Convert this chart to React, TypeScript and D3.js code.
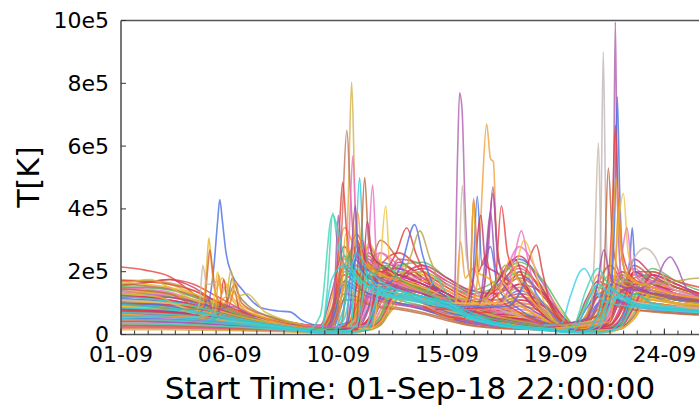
import React from "react";
import * as d3 from "d3";

// ---------- data (temperatures in units of 1e5 K, time in days from 01-Sep-18 22:00) ----------
const xTickDays = [0, 4.5, 9, 13.5, 18, 22.5];
const xTickLabels = ["01-09", "06-09", "10-09", "15-09", "19-09", "24-09"];
const yTicks = [0, 2, 4, 6, 8, 10];
const yTickLabels = ["0", "2e5", "4e5", "6e5", "8e5", "10e5"];

const gridDays = [0, 1, 2, 3, 4, 5, 6, 7, 7.75, 8.25, 8.75, 9.25, 9.75, 10.25, 10.75, 11.5, 12.5, 13.5, 14.5, 15.5, 16.5, 17.5, 18.25, 18.75, 19.25, 19.75, 20.25, 20.75, 21.25, 22, 23, 24, 25];

const bandSeries = [
  [2.15,2.05,1.85,1.3,0.7,0.5,0.4,0.3, 0.25,0.22,0.3,1.6,3.2,2.3,1.9,1.6,1.3,0.9,0.6,0.9,1.6,0.9,0.4,0.3,0.5,1.6,2.2,1.7,1.4,1.2,1.0,0.9,0.9],
  [1.75,1.7,1.6,1.3,0.9,0.6,0.45,0.35, 0.3,0.25,0.2,0.3,1.8,2.6,2.0,1.7,1.4,1.0,0.7,0.5,0.6,0.5,0.3,0.2,0.2,0.4,1.4,2.0,1.6,1.3,1.1,1.0,1.0],
  [1.6,1.65,1.75,1.5,1.0,0.7,0.5,0.4, 0.3,0.3,1.4,2.8,2.0,1.6,1.5,1.4,1.2,0.9,0.6,1.2,1.9,1.2,0.5,0.3,1.1,1.7,1.5,1.4,1.3,1.2,1.1,1.0,1.0],
  [1.5,1.45,1.35,1.1,0.8,0.55,0.4,0.3, 0.25,0.2,0.2,0.25,0.6,2.2,2.6,2.0,1.5,1.1,0.8,0.6,0.8,0.6,0.3,0.2,0.2,0.25,0.6,1.7,2.1,1.6,1.3,1.1,1.0],
  [1.4,1.3,1.2,1.0,0.75,0.55,0.4,0.3, 0.2,0.18,0.2,0.2,0.25,0.9,2.3,2.1,1.7,1.3,0.9,1.6,2.4,1.6,0.6,0.3,0.2,0.25,0.5,1.2,2.0,1.7,1.4,1.2,1.1],
  [1.3,1.35,1.3,1.1,0.85,0.6,0.45,0.35, 0.25,0.22,1.2,3.4,2.6,1.9,1.6,1.4,1.2,0.8,0.5,0.4,0.4,0.3,0.2,0.2,0.9,1.9,1.6,1.4,1.2,1.1,1.0,0.9,0.9],
  [1.2,1.15,1.05,0.9,0.7,0.5,0.38,0.3, 0.22,0.2,0.2,0.22,1.5,2.4,1.9,1.7,1.4,1.0,0.7,0.5,1.1,0.8,0.3,0.2,0.2,0.7,1.8,1.6,1.4,1.2,1.0,0.9,0.9],
  [1.1,1.1,1.0,0.9,0.7,0.5,0.4,0.3, 0.2,0.18,0.18,0.2,0.2,0.3,1.3,2.0,1.8,1.4,1.0,0.8,0.7,0.5,0.3,0.2,0.2,0.2,0.3,0.8,1.9,1.8,1.5,1.3,1.2],
  [1.0,0.95,0.9,0.8,0.65,0.5,0.38,0.3, 0.2,0.2,0.9,2.5,2.0,1.6,1.4,1.2,1.0,0.7,0.45,0.35,0.3,0.25,0.2,0.2,0.5,1.3,1.4,1.2,1.1,1.0,0.9,0.8,0.8],
  [0.95,0.9,0.85,0.75,0.6,0.45,0.35,0.28, 0.2,0.18,0.18,0.2,0.9,2.8,2.2,1.6,1.3,1.0,0.7,1.5,2.1,1.3,0.5,0.25,0.2,0.3,1.0,1.9,1.6,1.3,1.1,1.0,0.9],
  [0.9,0.9,0.88,0.8,0.65,0.5,0.4,0.3, 0.22,0.2,0.2,0.2,0.22,0.4,1.6,2.2,1.9,1.4,1.0,0.7,0.6,0.45,0.3,0.2,0.2,0.2,0.25,0.5,1.5,1.9,1.5,1.3,1.2],
  [0.85,0.8,0.75,0.65,0.55,0.42,0.32,0.25, 0.18,0.16,0.6,2.0,1.8,1.5,1.3,1.1,0.9,0.65,0.4,0.3,0.25,0.22,0.18,0.3,1.0,1.5,1.3,1.1,1.0,0.9,0.8,0.8,0.8],
  [0.8,0.78,0.75,0.68,0.55,0.42,0.33,0.26, 0.2,0.18,0.18,0.2,0.3,1.2,2.0,1.8,1.5,1.1,0.8,0.6,0.9,0.7,0.3,0.2,0.2,0.22,0.4,1.3,1.7,1.4,1.2,1.0,0.95],
  [0.75,0.7,0.66,0.6,0.5,0.4,0.3,0.24, 0.18,0.16,0.16,0.18,0.2,0.25,0.7,1.8,1.9,1.5,1.1,0.8,0.6,0.45,0.3,0.2,0.18,0.18,0.2,0.4,1.2,1.6,1.4,1.2,1.1],
  [0.7,0.68,0.65,0.58,0.48,0.38,0.3,0.24, 0.18,0.17,0.7,1.9,1.6,1.3,1.15,1.0,0.8,0.55,0.35,0.28,0.25,0.2,0.16,0.16,0.6,1.2,1.2,1.0,0.95,0.85,0.75,0.7,0.7],
  [0.65,0.62,0.6,0.55,0.46,0.36,0.28,0.22, 0.16,0.15,0.15,0.16,1.0,1.9,1.7,1.4,1.2,0.9,0.6,0.45,0.35,0.28,0.2,0.16,0.16,0.4,1.3,1.3,1.1,1.0,0.9,0.8,0.8],
  [0.6,0.6,0.58,0.52,0.44,0.35,0.28,0.22, 0.16,0.15,0.15,0.15,0.18,0.5,1.5,1.7,1.5,1.1,0.8,0.6,0.5,0.4,0.25,0.18,0.16,0.16,0.2,0.6,1.6,1.5,1.3,1.1,1.0],
  [0.55,0.52,0.5,0.46,0.4,0.32,0.26,0.2, 0.15,0.14,0.14,0.15,0.15,0.2,0.6,1.6,1.7,1.3,0.9,0.7,0.5,0.38,0.22,0.16,0.15,0.15,0.16,0.25,0.9,1.5,1.3,1.15,1.05],
  [0.5,0.5,0.48,0.44,0.38,0.3,0.24,0.19, 0.14,0.13,0.5,1.6,1.4,1.2,1.05,0.95,0.8,0.55,0.35,0.25,0.22,0.18,0.14,0.14,0.4,1.0,1.1,1.0,0.9,0.8,0.72,0.68,0.68],
  [0.45,0.44,0.42,0.38,0.33,0.27,0.22,0.18, 0.13,0.12,0.12,0.13,0.7,1.5,1.4,1.2,1.0,0.75,0.5,0.35,0.28,0.22,0.15,0.13,0.13,0.25,0.9,1.2,1.0,0.9,0.8,0.75,0.75],
  [0.4,0.4,0.38,0.35,0.3,0.25,0.2,0.16, 0.12,0.11,0.11,0.12,0.13,0.3,1.3,1.5,1.3,0.95,0.65,0.45,0.35,0.28,0.18,0.13,0.12,0.12,0.15,0.4,1.3,1.3,1.1,1.0,0.95],
  [0.35,0.35,0.34,0.31,0.27,0.22,0.18,0.15, 0.11,0.1,0.1,0.11,0.12,0.15,0.4,1.4,1.5,1.2,0.85,0.6,0.45,0.35,0.2,0.14,0.12,0.12,0.13,0.2,0.7,1.3,1.2,1.05,1.0],
  [0.3,0.3,0.29,0.27,0.24,0.2,0.17,0.14, 0.1,0.09,0.4,1.3,1.2,1.0,0.9,0.85,0.7,0.5,0.3,0.22,0.18,0.15,0.12,0.12,0.3,0.9,1.0,0.9,0.8,0.75,0.68,0.64,0.64],
  [0.25,0.25,0.24,0.22,0.2,0.17,0.14,0.12, 0.09,0.08,0.08,0.09,0.5,1.3,1.2,1.0,0.9,0.65,0.42,0.3,0.24,0.18,0.12,0.1,0.1,0.2,0.8,1.1,0.95,0.85,0.78,0.72,0.72],
  [0.2,0.2,0.19,0.18,0.16,0.14,0.12,0.1, 0.08,0.07,0.07,0.08,0.1,0.25,1.1,1.3,1.2,0.9,0.6,0.42,0.32,0.25,0.15,0.1,0.09,0.09,0.12,0.3,1.1,1.2,1.0,0.9,0.88],
  [1.45,1.4,1.3,1.05,0.75,0.5,0.35,0.25, 0.18,0.15,0.15,0.15,0.16,0.2,0.5,1.9,2.0,1.6,1.3,1.5,2.0,1.4,0.5,0.25,0.2,0.2,0.22,0.3,1.0,2.0,1.6,1.3,1.2],
  [1.25,1.2,1.1,0.95,0.7,0.5,0.36,0.27, 0.2,0.17,0.16,0.16,0.17,0.2,0.35,1.6,2.1,1.7,1.3,1.1,1.3,1.0,0.4,0.2,0.18,0.18,0.2,0.25,0.6,1.7,1.5,1.25,1.15],
  [0.9,0.85,0.8,0.7,0.55,0.42,0.32,0.25, 0.18,0.15,0.15,0.15,0.15,0.17,0.3,1.2,1.8,1.6,1.2,1.4,1.9,1.5,0.7,0.3,0.2,0.18,0.2,0.3,0.8,1.6,1.4,1.2,1.1],
  [1.55,1.65,1.75,1.6,1.2,0.8,0.5,0.35, 0.25,0.2,0.2,0.25,0.9,2.5,2.0,1.8,1.5,1.2,1.0,1.4,2.2,1.3,0.5,0.3,0.25,0.5,1.5,2.0,1.7,1.5,1.3,1.2,1.1],
  [1.65,1.6,1.5,1.3,1.0,0.7,0.5,0.38, 0.3,0.25,0.25,1.6,3.0,2.2,1.8,1.6,1.5,1.2,0.8,0.6,0.5,0.4,0.3,0.25,0.3,0.9,1.8,1.9,1.7,1.6,1.4,1.3,1.2],
  [1.05,1.0,0.95,0.85,0.7,0.55,0.42,0.32, 0.22,0.2,0.2,0.22,0.25,0.35,1.2,2.3,1.8,1.3,0.9,1.6,2.5,1.4,0.4,0.22,0.2,0.22,0.3,0.9,2.4,1.9,1.5,1.3,1.2],
  [1.35,1.3,1.25,1.1,0.85,0.6,0.42,0.3, 0.22,0.2,0.2,0.2,0.22,1.1,2.6,2.2,1.7,1.3,1.0,1.3,2.8,1.6,0.6,0.3,0.25,0.3,0.5,1.6,1.9,1.5,1.3,1.2,1.1],
  [1.15,1.1,1.05,0.95,0.75,0.55,0.4,0.3, 0.22,0.2,0.2,1.2,2.2,1.8,1.6,1.5,1.3,1.0,0.7,0.9,1.4,0.9,0.35,0.22,0.25,1.0,1.6,1.4,1.3,1.2,1.15,1.1,1.1],
  [0.6,0.58,0.56,0.52,0.45,0.38,0.3,0.22, 0.15,0.13,0.13,0.14,0.15,0.2,0.4,1.0,1.4,1.2,0.9,0.7,1.2,1.0,0.5,0.2,0.15,0.15,0.15,0.2,0.5,1.3,1.2,1.1,1.0],
  [0.8,0.8,0.78,0.72,0.6,0.47,0.36,0.28, 0.2,0.18,0.18,0.2,0.25,1.4,2.1,1.9,1.6,1.2,0.85,0.6,0.5,0.4,0.25,0.2,0.2,0.3,1.1,1.6,1.4,1.3,1.1,1.0,1.0],
  [1.7,1.72,1.65,1.4,1.0,0.7,0.5,0.38, 0.28,0.25,0.5,2.2,2.8,2.1,1.8,1.6,1.4,1.1,0.8,1.0,1.5,1.0,0.4,0.25,0.6,1.4,1.9,1.6,1.4,1.3,1.2,1.1,1.1],
  [1.6,1.55,1.45,1.25,0.95,0.65,0.45,0.32, 0.24,0.2,0.2,0.24,0.4,1.8,3.0,2.4,1.8,1.3,0.9,1.2,1.8,1.2,0.45,0.25,0.2,0.22,0.4,1.4,2.2,1.8,1.5,1.3,1.2],
  [1.48,1.5,1.45,1.2,0.9,0.62,0.44,0.32, 0.22,0.2,0.2,0.2,0.2,0.3,1.0,2.4,2.2,1.6,1.2,1.0,1.2,0.9,0.4,0.22,0.2,0.2,0.25,0.6,1.8,1.9,1.6,1.3,1.2],
  [1.38,1.35,1.28,1.12,0.88,0.6,0.42,0.3, 0.22,0.2,0.8,2.4,2.2,1.8,1.6,1.5,1.3,1.0,0.7,0.9,1.2,0.8,0.3,0.2,0.6,1.6,1.5,1.3,1.2,1.1,1.0,0.95,0.9],
  [1.28,1.25,1.2,1.05,0.8,0.58,0.42,0.3, 0.22,0.2,0.2,0.22,0.7,2.6,2.2,1.8,1.5,1.2,0.85,0.7,0.9,0.7,0.3,0.2,0.2,0.4,1.2,1.8,1.5,1.3,1.2,1.1,1.0],
  [1.18,1.2,1.18,1.05,0.82,0.58,0.42,0.3, 0.22,0.2,0.2,0.2,0.22,0.5,2.0,2.1,1.7,1.3,0.95,0.75,1.0,0.8,0.35,0.2,0.2,0.2,0.3,1.0,2.0,1.6,1.4,1.2,1.1],
  [1.08,1.05,1.0,0.9,0.72,0.52,0.38,0.28, 0.2,0.18,0.18,0.2,0.2,0.22,0.6,2.0,2.0,1.5,1.1,0.85,0.9,0.7,0.35,0.2,0.18,0.18,0.2,0.35,1.2,1.7,1.4,1.2,1.1],
  [0.98,0.98,0.95,0.86,0.7,0.52,0.38,0.28, 0.2,0.18,0.8,2.2,1.9,1.6,1.4,1.3,1.1,0.85,0.55,0.45,0.5,0.4,0.25,0.2,0.4,1.2,1.3,1.2,1.1,1.0,0.9,0.85,0.85],
  [0.88,0.86,0.82,0.74,0.6,0.46,0.35,0.26, 0.18,0.16,0.16,0.18,0.8,2.2,1.9,1.6,1.35,1.0,0.7,0.55,0.7,0.55,0.25,0.17,0.16,0.3,1.0,1.5,1.3,1.15,1.0,0.95,0.9],
  [0.78,0.76,0.72,0.66,0.55,0.43,0.33,0.25, 0.18,0.16,0.16,0.16,0.18,0.35,1.8,1.9,1.6,1.2,0.85,0.65,0.6,0.5,0.28,0.18,0.16,0.16,0.2,0.5,1.6,1.6,1.3,1.15,1.05],
  [0.68,0.66,0.63,0.57,0.48,0.38,0.3,0.23, 0.17,0.15,0.15,0.15,0.16,0.2,0.8,1.8,1.8,1.4,1.0,0.75,0.6,0.45,0.28,0.17,0.15,0.15,0.17,0.3,1.0,1.7,1.4,1.2,1.1],
  [0.58,0.57,0.55,0.5,0.43,0.35,0.27,0.21, 0.15,0.14,0.45,1.7,1.5,1.3,1.15,1.0,0.85,0.6,0.4,0.3,0.26,0.2,0.15,0.2,0.8,1.3,1.2,1.05,0.95,0.85,0.78,0.74,0.72],
  [0.48,0.47,0.45,0.42,0.36,0.3,0.24,0.18, 0.13,0.12,0.12,0.12,0.6,1.7,1.5,1.25,1.05,0.8,0.55,0.38,0.3,0.24,0.15,0.12,0.12,0.2,0.7,1.4,1.15,1.0,0.9,0.82,0.8],
  [0.42,0.42,0.4,0.37,0.32,0.27,0.21,0.16, 0.12,0.11,0.11,0.11,0.12,0.22,1.0,1.6,1.4,1.05,0.7,0.5,0.38,0.3,0.18,0.12,0.11,0.11,0.13,0.3,1.4,1.4,1.2,1.05,1.0],
  [0.32,0.32,0.31,0.29,0.26,0.22,0.18,0.14, 0.1,0.09,0.09,0.1,0.11,0.14,0.3,1.2,1.4,1.15,0.8,0.55,0.42,0.32,0.18,0.12,0.1,0.1,0.12,0.18,0.6,1.2,1.1,1.0,0.95],
  [0.28,0.28,0.27,0.25,0.22,0.19,0.16,0.13, 0.09,0.08,0.3,1.1,1.1,0.95,0.85,0.8,0.65,0.45,0.28,0.2,0.17,0.14,0.1,0.1,0.25,0.8,0.95,0.85,0.78,0.72,0.66,0.62,0.62],
  [0.22,0.22,0.21,0.2,0.18,0.16,0.13,0.11, 0.08,0.07,0.07,0.07,0.4,1.2,1.1,0.95,0.85,0.6,0.38,0.27,0.21,0.16,0.1,0.08,0.08,0.15,0.7,1.0,0.9,0.8,0.74,0.7,0.7],
  [0.15,0.15,0.15,0.14,0.13,0.12,0.1,0.08, 0.06,0.05,0.05,0.05,0.06,0.2,1.0,1.2,1.1,0.85,0.55,0.38,0.28,0.2,0.12,0.07,0.06,0.06,0.08,0.25,1.0,1.1,0.95,0.85,0.82],
  [1.52,1.5,1.42,1.2,0.9,0.6,0.42,0.3, 0.2,0.18,0.17,0.17,0.18,0.22,0.6,2.2,2.3,1.8,1.4,1.7,2.3,1.7,0.8,0.3,0.22,0.2,0.22,0.35,1.2,2.1,1.7,1.4,1.3],
  [1.22,1.18,1.1,0.95,0.72,0.52,0.38,0.28, 0.2,0.17,0.16,0.16,0.17,0.2,0.45,1.7,2.2,1.8,1.4,1.3,1.6,1.3,0.6,0.25,0.2,0.18,0.2,0.3,0.9,1.9,1.6,1.3,1.2],
  [0.62,0.62,0.6,0.55,0.46,0.37,0.29,0.22, 0.16,0.14,0.14,0.14,0.15,0.18,0.4,1.4,1.7,1.4,1.05,0.8,1.0,0.8,0.4,0.18,0.15,0.14,0.15,0.2,0.5,1.4,1.3,1.15,1.05],
  [1.72,1.68,1.6,1.4,1.05,0.72,0.5,0.36, 0.26,0.22,0.22,0.22,0.24,0.5,2.2,2.6,2.0,1.5,1.1,0.9,1.1,0.9,0.4,0.25,0.22,0.22,0.3,0.8,2.0,2.0,1.7,1.5,1.4],
  [1.02,1.02,1.0,0.92,0.76,0.56,0.4,0.3, 0.22,0.2,0.2,0.2,1.1,2.9,2.3,1.8,1.5,1.15,0.8,0.6,0.55,0.45,0.28,0.2,0.2,0.7,1.7,1.6,1.4,1.25,1.1,1.0,1.0],
  [0.72,0.72,0.7,0.64,0.54,0.42,0.32,0.24, 0.17,0.15,0.15,0.15,0.16,0.8,2.2,1.8,1.5,1.15,0.8,0.6,0.5,0.4,0.25,0.16,0.15,0.18,0.5,1.4,1.5,1.3,1.15,1.05,1.0],
];

const tealSeries = [
  [1.2,1.15,1.05,0.9,0.7,0.5,0.35,0.25, 0.15,0.6,3.8,2.5,1.9,1.5,1.3,1.2,1.1,1.0,0.6,0.35,0.25,0.2,0.15,0.3,1.4,2.1,1.5,1.2,1.0,0.9,0.8,0.7,0.7],
  [0.95,0.9,0.85,0.75,0.6,0.45,0.32,0.2, 0.1,0.08,0.08,0.9,2.6,1.9,1.5,1.3,1.2,1.05,0.7,0.4,0.25,0.18,0.1,0.08,0.1,0.6,1.5,1.2,1.0,0.9,0.8,0.75,0.7],
  [0.7,0.68,0.64,0.58,0.5,0.4,0.3,0.2, 0.12,0.1,0.1,0.1,0.3,2.0,1.7,1.4,1.2,1.0,0.6,0.35,0.22,0.15,0.1,0.08,0.08,0.15,0.9,1.3,1.0,0.85,0.75,0.7,0.65],
  [0.5,0.48,0.46,0.42,0.36,0.3,0.22,0.16, 0.1,0.08,0.08,0.08,0.09,0.15,1.5,1.4,1.2,0.95,0.6,0.35,0.22,0.15,0.1,0.08,0.08,0.08,0.12,0.5,1.3,1.0,0.85,0.75,0.7],
  [0.35,0.34,0.33,0.3,0.27,0.23,0.18,0.13, 0.08,0.06,0.06,0.06,0.08,0.4,1.4,1.3,1.1,0.9,0.55,0.3,0.2,0.13,0.08,0.06,0.06,0.06,0.1,0.3,0.9,0.95,0.8,0.7,0.65],
  [0.85,0.82,0.78,0.7,0.56,0.42,0.3,0.2, 0.12,0.1,1.8,2.2,1.8,1.5,1.3,1.15,1.0,0.85,0.5,0.3,0.2,0.15,0.1,0.12,0.9,1.6,1.3,1.1,0.95,0.85,0.78,0.72,0.7],
  [0.6,0.58,0.55,0.5,0.42,0.34,0.25,0.17, 0.1,0.08,0.08,0.5,2.1,1.7,1.4,1.2,1.05,0.9,0.55,0.32,0.2,0.14,0.09,0.08,0.12,0.3,1.1,1.2,1.0,0.88,0.8,0.74,0.7],
];

const periodASpikes = [
  [[0,1.0],[1.5,0.95],[3.0,0.8],[3.6,1.0],[3.85,2.2],[4.0,3.6],[4.09,4.3],[4.2,3.6],[4.35,2.6],[4.6,1.9],[5.0,1.45],[5.8,0.85],[6.5,0.75],[7.0,0.72],[7.5,0.45],[8.0,0.3],[8.5,0.22]],
  [[0,1.3],[1.5,1.2],[3.0,0.8],[3.4,0.9],[3.55,2.2],[3.64,3.07],[3.75,2.2],[3.88,1.4],[4.2,1.8],[4.5,1.3],[5.5,0.7],[7,0.35],[8,0.25],[8.6,0.2]],
  [[0,1.45],[2,1.3],[3.2,0.9],[3.45,1.0],[3.58,2.0],[3.68,2.7],[3.8,2.0],[3.95,1.2],[4.3,0.9],[4.7,1.6],[5.0,1.0],[6,0.6],[7,0.4],[8.5,0.2]],
  [[0,1.1],[2,1.0],[3.1,0.75],[3.25,1.0],[3.39,2.2],[3.55,1.6],[3.8,1.6],[4.0,1.7],[4.4,1.3],[5,0.8],[6.5,0.4],[8.5,0.2]],
  [[0,0.9],[2,0.85],[3.6,0.6],[3.85,1.1],[4.0,2.0],[4.15,1.3],[4.4,1.6],[4.6,1.1],[5.5,0.6],[7,0.3],[8.5,0.15]],
  [[0,1.0],[3,0.8],[4.2,0.9],[4.45,1.2],[4.6,1.8],[4.85,1.3],[5.3,0.9],[6.5,0.5],[8.5,0.2]],
  [[0,0.8],[3,0.6],[3.9,0.5],[4.1,0.9],[4.25,1.75],[4.45,0.9],[4.7,1.4],[4.9,0.8],[6,0.5],[8.5,0.15]],
  [[0,1.6],[1.2,1.75],[2,1.5],[3.5,1.0],[4.35,1.2],[4.55,2.05],[4.75,1.2],[5.2,1.3],[6,0.7],[8.5,0.2]],
  [[0,0.7],[3,0.6],[3.4,0.8],[3.6,1.16],[3.8,0.7],[4.5,0.9],[5.5,0.6],[8.5,0.15]],
  [[0,0.6],[3,0.55],[3.9,0.7],[4.05,1.9],[4.2,1.0],[4.5,1.0],[4.75,1.7],[4.95,0.9],[6,0.5],[8.5,0.15]],
];

const event1Spikes = [
  [[7.5,0.25],[8.8,0.2],[9.2,0.5],[9.4,4.0],[9.55,8.04],[9.7,4.0],[9.85,2.6],[10.2,2.1],[10.8,1.9],[11.5,1.6],[12.5,1.3],[13.5,1.0],[14.5,0.6],[15.5,0.5],[17.5,0.3],[18.5,0.2]],
  [[7.5,0.25],[8.6,0.2],[8.95,0.6],[9.15,3.5],[9.35,6.5],[9.5,4.5],[9.7,2.5],[10.2,2.3],[11,1.8],[12,1.5],[13.5,1.1],[15,0.6],[17.5,0.3],[18.5,0.2]],
  [[7.5,0.3],[8.5,0.25],[8.85,1.0],[9.05,3.5],[9.18,4.85],[9.35,3.2],[9.55,2.3],[9.8,3.0],[10.0,2.0],[10.5,1.8],[11.5,1.5],[13,1.0],[15,0.5],[17.5,0.3],[18.5,0.2]],
  [[7.5,0.3],[9.0,0.25],[9.3,1.2],[9.45,3.2],[9.6,5.7],[9.75,3.0],[9.95,2.2],[10.2,2.4],[10.42,4.76],[10.6,2.2],[11,1.8],[12,1.5],[13.5,1.1],[15,0.6],[16.5,0.9],[17.5,0.4],[18.5,0.2]],
  [[7.5,0.2],[8.3,0.2],[8.55,1.5],[8.77,3.87],[8.95,3.0],[9.2,2.2],[9.6,1.8],[10.5,1.5],[11.5,1.3],[12.5,1.1],[13.5,0.8],[14.5,0.5],[16,0.3],[18.5,0.15]],
  [[8,0.1],[9.5,0.1],[9.65,1.5],[9.88,5.0],[10.05,2.5],[10.3,1.6],[11,1.3],[12,1.2],[13.5,1.0],[14.5,0.6],[16,0.3],[18.5,0.1]],
  [[8,0.2],[9.7,0.2],[9.9,2.0],[10.09,5.0],[10.25,3.0],[10.5,2.4],[11,2.0],[12,1.6],[13.5,1.2],[15,0.7],[17.5,0.3],[18.5,0.2]],
  [[8,0.2],[10.4,0.2],[10.7,1.8],[10.96,4.1],[11.15,2.0],[11.5,1.8],[12.5,1.5],[13.5,1.2],[15,0.7],[17.5,0.3],[18.5,0.2]],
  [[8,0.2],[8.7,0.25],[8.85,1.5],[9.0,3.8],[9.15,2.4],[9.5,2.0],[10,3.0],[10.2,2.1],[11,1.7],[12.5,1.3],[14,0.8],[16,0.4],[18.5,0.2]],
  [[9,0.2],[9.6,0.5],[9.9,2.8],[10.2,2.2],[10.8,2.0],[11.4,2.6],[11.83,3.4],[12.2,2.6],[12.8,1.6],[13.5,1.2],[15,0.6],[17,0.4],[18.5,0.2]],
  [[9,0.3],[9.4,0.4],[9.7,2.4],[10.1,1.9],[11,1.6],[11.6,2.2],[12.16,3.5],[12.5,2.5],[13.0,1.5],[14,1.0],[15,0.6],[17,0.35],[18.5,0.2]],
  [[9,0.2],[9.9,0.3],[10.1,2.2],[10.5,1.9],[11.5,1.8],[12.0,2.5],[12.37,3.3],[12.8,2.4],[13.3,1.5],[14.5,0.8],[16,0.5],[18.5,0.2]],
  [[9,0.1],[9.5,0.15],[9.7,1.8],[10,1.5],[11,1.2],[12,1.1],[12.7,1.4],[13.07,1.8],[13.4,1.4],[14,0.7],[15,0.4],[17,0.2],[18.5,0.1]],
  [[9,0.2],[10.2,0.3],[10.5,1.6],[11,1.3],[12,1.1],[13,1.3],[13.52,1.6],[13.9,1.3],[14.5,0.7],[16,0.3],[18.5,0.15]],
  [[8,0.2],[9.8,0.2],[10.0,1.5],[10.2,3.6],[10.4,2.5],[10.8,2.2],[11.5,1.9],[12.5,1.6],[13.5,1.3],[14.5,0.9],[15.5,1.6],[16.3,2.4],[16.8,1.5],[17.5,0.6],[18.5,0.2]],
  [[8,0.2],[8.9,0.2],[9.1,1.0],[9.3,3.2],[9.5,2.2],[9.8,3.9],[10.0,2.4],[10.6,2.0],[11.5,1.7],[13,1.2],[15,0.6],[18.5,0.2]],
  [[8,0.2],[9.3,0.2],[9.5,2.0],[9.7,4.1],[9.85,2.3],[10.3,2.0],[11,1.6],[12.5,1.3],[14,0.9],[16,0.4],[18.5,0.2]],
  [[8,0.2],[9.1,0.2],[9.3,1.4],[9.45,2.6],[9.6,2.0],[10,1.7],[11,2.2],[11.5,1.8],[12.5,1.4],[14,0.8],[16,0.4],[18.5,0.2]],
];

const event2Spikes = [
  [[12,1.2],[13,0.8],[13.6,0.5],[13.8,1.0],[13.93,5.5],[14.02,7.7],[14.12,7.2],[14.25,4.0],[14.4,2.0],[14.8,1.3],[15.5,0.9],[16.5,0.6],[17.5,0.3],[18.5,0.2]],
  [[12.5,1.0],[13.7,0.6],[13.95,1.5],[14.14,4.75],[14.3,2.5],[14.6,1.6],[15.2,1.0],[16.5,0.6],[18.5,0.2]],
  [[12.5,1.2],[14,0.8],[14.5,0.9],[14.8,2.0],[14.95,4.5],[15.14,6.7],[15.3,5.6],[15.42,5.5],[15.55,3.0],[15.8,1.8],[16.3,1.2],[17.5,0.5],[18.5,0.2]],
  [[12.5,1.0],[13.8,0.5],[14.06,2.95],[14.25,1.8],[14.6,2.1],[15,1.2],[16,0.8],[18.5,0.2]],
  [[12.5,1.1],[14.3,0.6],[14.55,1.5],[14.75,4.4],[14.95,2.2],[15.3,2.8],[15.6,1.5],[16.5,0.8],[18.5,0.2]],
  [[12.5,0.9],[14.2,0.5],[14.45,1.4],[14.6,4.3],[14.8,2.0],[15.1,2.5],[15.4,1.4],[16.5,0.7],[18.5,0.2]],
  [[12.5,1.0],[14.5,0.7],[15.0,1.3],[15.25,3.5],[15.4,4.5],[15.6,2.6],[16.0,1.6],[16.5,2.0],[17,1.2],[18.5,0.2]],
  [[12.5,1.0],[14.5,0.8],[15.0,1.4],[15.2,2.6],[15.4,4.7],[15.6,2.4],[16.0,1.8],[17,1.0],[18.5,0.2]],
  [[12.5,1.3],[14.2,0.9],[14.6,1.8],[14.9,3.8],[15.1,2.2],[15.5,2.0],[16.2,1.6],[17.2,0.8],[18.5,0.2]],
  [[12.5,1.1],[14,0.7],[14.45,1.6],[14.6,4.35],[14.75,2.0],[15.2,1.8],[16,1.2],[17.5,0.5],[18.5,0.2]],
  [[13,0.9],[15.2,0.7],[15.5,1.6],[15.75,4.1],[16.0,2.6],[16.3,2.0],[16.8,1.4],[17.5,0.6],[18.5,0.2]],
  [[13,0.8],[15.5,0.8],[16.0,1.4],[16.3,2.5],[16.58,3.3],[16.85,2.4],[17.2,1.2],[17.8,0.5],[18.5,0.2]],
  [[13,0.8],[16,0.9],[16.6,1.5],[16.95,2.5],[17.2,2.85],[17.45,2.0],[17.8,0.9],[18.3,0.4],[19,0.2]],
  [[13,1.0],[15.8,1.0],[16.3,2.0],[16.7,3.0],[17.0,2.5],[17.4,1.3],[18,0.4],[18.8,0.2]],
  [[13,1.0],[14.8,0.9],[15.1,2.5],[15.3,3.9],[15.5,2.2],[16,1.4],[17,0.8],[18.5,0.2]],
  [[13,0.9],[15.5,1.0],[15.9,2.0],[16.1,2.4],[16.4,1.8],[17,1.1],[18,0.4],[18.8,0.2]],
  [[13,1.2],[15,1.1],[15.6,1.8],[15.9,2.2],[16.3,1.9],[17,1.4],[17.6,0.6],[18.5,0.25]],
  [[13,0.9],[16,0.9],[16.5,1.3],[16.85,1.8],[17.2,1.3],[17.8,0.7],[18.4,0.25],[19,0.15]],
];

const event3Spikes = [
  [[18,0.3],[19.4,0.4],[19.6,2.5],[19.77,6.1],[19.9,2.0],[20.1,1.3],[20.6,1.2],[21.5,1.0],[23,0.8],[25,0.7]],
  [[18,0.2],[19.75,0.5],[19.88,4.0],[19.97,9.0],[20.07,4.0],[20.2,1.5],[20.5,1.2],[21.5,1.0],[25,0.8]],
  [[18,0.3],[19.5,0.6],[20.0,1.4],[20.3,1.8],[20.4,5.0],[20.47,9.95],[20.55,4.5],[20.7,2.0],[21,1.6],[22,1.4],[23,1.2],[24,1.2],[25,1.1]],
  [[18,0.2],[20.0,0.5],[20.3,1.5],[20.45,4.0],[20.55,7.57],[20.65,4.5],[20.8,2.2],[20.95,1.9],[21.07,2.4],[21.17,3.4],[21.3,2.0],[21.6,1.6],[22,1.4],[23,1.1],[25,1.0]],
  [[18,0.3],[19.8,0.6],[20.2,2.0],[20.35,4.0],[20.47,6.67],[20.6,4.0],[20.8,2.5],[21.2,1.8],[22,1.5],[23.5,1.2],[25,1.1]],
  [[18,0.3],[19.7,0.6],[20.0,2.0],[20.18,5.3],[20.35,3.0],[20.6,2.0],[21,1.6],[22.5,1.2],[25,1.0]],
  [[18,0.2],[20,0.4],[20.4,1.5],[20.6,3.5],[20.8,4.5],[21.0,2.6],[21.3,1.9],[22,1.5],[23.5,1.2],[25,1.1]],
  [[18,0.3],[20,0.5],[20.6,1.5],[20.9,1.9],[21.3,2.5],[21.67,2.75],[22.1,2.5],[22.5,1.8],[23,1.4],[24,1.2],[25,1.2]],
  [[17.5,0.3],[18.2,0.3],[18.6,1.2],[19.0,2.0],[19.19,2.1],[19.5,1.7],[19.8,1.2],[20.2,1.0],[21,0.9],[22,0.8],[25,0.7]],
  [[18,0.2],[20,0.5],[20.2,1.4],[20.35,3.2],[20.5,5.0],[20.65,3.0],[20.9,2.0],[21.5,1.6],[23,1.2],[25,1.1]],
  [[20,0.4],[20.6,1.6],[21,1.4],[21.6,1.5],[22.2,1.8],[22.5,2.3],[22.75,2.47],[23.0,2.2],[23.4,1.5],[24,1.2],[25,1.1]],
  [[18,0.3],[20,0.4],[20.5,1.5],[20.75,2.6],[20.95,3.4],[21.15,2.2],[21.5,1.7],[22.5,1.4],[25,1.1]],
  [[18,0.3],[19.3,0.5],[19.7,1.5],[20.0,2.7],[20.2,2.0],[20.5,1.6],[21.5,1.4],[23,1.2],[25,1.0]],
  [[18,0.3],[19.5,0.4],[20.3,1.2],[20.8,1.7],[21.5,1.6],[22,1.6],[23,1.7],[24,1.8],[25,1.8]],
  [[18,0.2],[20.2,0.4],[20.45,1.8],[20.6,4.1],[20.75,2.5],[21,1.8],[22,1.5],[23.5,1.2],[25,1.15]],
];

// ---------- styles ----------
const bandPalette = ["#e8413c", "#e6b422", "#c8326e", "#ee6fc4", "#4a6fe3", "#f39c2a", "#a556b5", "#a8a24a", "#c0683f", "#e05a8a", "#d9a93a", "#5cb85c", "#d6336c", "#f2b134"];
const tealPalette = ["#40d4b8", "#22c8e0", "#3ad8c8", "#1ec8e0", "#48d0d0", "#2dd4d4", "#38c8dc"];
const periodAColors = ["#4a6fe3", "#e6b422", "#d9603a", "#c9b9a6", "#f0c040", "#8c8a5a", "#e03c3c", "#d9b43a", "#a556b5", "#f39c2a"];
const event1Colors = ["#d4b24a", "#c8705a", "#e8413c", "#ee6fc4", "#40d4b0", "#28c8e0", "#b8693a", "#f0c040", "#a556b5", "#e03c3c", "#4a6fe3", "#b5a642", "#48d8c8", "#b8a8b8", "#c8326e", "#f39c2a", "#9b4fb0", "#5cb85c"];
const event2Colors = ["#b060b0", "#c9b9a6", "#f3a040", "#f39c2a", "#4a6fe3", "#e8413c", "#d63a4a", "#a556b5", "#c8326e", "#e6b422", "#e8413c", "#ee6fc4", "#d94040", "#f0c040", "#9b4fb0", "#f5b041", "#b5a642", "#5a7fe8"];
const event3Colors = ["#c9b9a6", "#c0b4bc", "#b060b0", "#4a6fe3", "#e8413c", "#c0683f", "#f0c040", "#c4b8b0", "#3ad0e8", "#e6a822", "#a556b5", "#ee6fc4", "#9b4fb0", "#b5a642", "#f39c2a"];

const W = 699;
const H = 408;
const left = 121;
const top = 20.5;
const bottom = 334.5;
const pxPerDay = 24.15;
const FONT = "DejaVu Sans, sans-serif";

export default function App() {
  const x = d3.scaleLinear().domain([0, 24]).range([left, left + 24 * pxPerDay]);
  const y = d3.scaleLinear().domain([0, 10]).range([bottom, top]);
  const line = d3
    .line<[number, number]>()
    .x((p) => x(p[0]))
    .y((p) => y(p[1]))
    .curve(d3.curveMonotoneX);

  const gridPaths = (series: number[][]) =>
    series.map((vals) => line(vals.map((v, i) => [gridDays[i], v] as [number, number])) || "");
  const pairPaths = (series: number[][][]) =>
    series.map((pts) => line(pts as [number, number][]) || "");

  const minorTicks = d3.range(0, 24.01, 4.5 / 8);

  const layers: { d: string; c: string }[] = [];
  gridPaths(bandSeries).forEach((d, i) => layers.push({ d, c: bandPalette[i % bandPalette.length] }));
  pairPaths(periodASpikes).forEach((d, i) => layers.push({ d, c: periodAColors[i] }));
  pairPaths(event1Spikes).forEach((d, i) => layers.push({ d, c: event1Colors[i] }));
  pairPaths(event2Spikes).forEach((d, i) => layers.push({ d, c: event2Colors[i] }));
  pairPaths(event3Spikes).forEach((d, i) => layers.push({ d, c: event3Colors[i] }));
  gridPaths(tealSeries).forEach((d, i) => layers.push({ d, c: tealPalette[i] }));

  return (
    <svg
      width={W}
      height={H}
      style={{ position: "absolute", left: 0, top: 0, display: "block", background: "#fff" }}
      fontFamily={FONT}
    >
      <defs>
        <clipPath id="plotclip">
          <rect x={left} y={top} width={W - left + 10} height={bottom - top} />
        </clipPath>
      </defs>
      <g clipPath="url(#plotclip)" fill="none" strokeWidth={1.6} strokeOpacity={0.8} strokeLinejoin="round">
        {layers.map((l, i) => (
          <path key={i} d={l.d} stroke={l.c} />
        ))}
      </g>
      {/* frame */}
      <g stroke="#555" strokeWidth={1.6} fill="none">
        <line x1={left} y1={top} x2={W + 5} y2={top} />
        <line x1={left} y1={top} x2={left} y2={bottom} />
        <line x1={left} y1={bottom} x2={W + 5} y2={bottom} />
      </g>
      {/* ticks */}
      <g stroke="#333" strokeWidth={1}>
        {minorTicks.map((d, i) => (
          <line key={"m" + i} x1={x(d)} x2={x(d)} y1={bottom} y2={bottom - 4} />
        ))}
        {xTickDays.map((d, i) => (
          <line key={"M" + i} x1={x(d)} x2={x(d)} y1={bottom} y2={bottom - 6} />
        ))}
        {yTicks.map((v, i) => (
          <line key={"y" + i} x1={left} x2={left + 5} y1={y(v)} y2={y(v)} />
        ))}
      </g>
      <g fontSize={22} fill="#000">
        {xTickDays.map((d, i) => (
          <text key={i} x={x(d)} y={362} textAnchor="middle">
            {xTickLabels[i]}
          </text>
        ))}
        {yTicks.map((v, i) => (
          <text key={i} x={109} y={y(v) + 7.5} textAnchor="end">
            {yTickLabels[i]}
          </text>
        ))}
      </g>
      <text x={410} y={399} fontSize={31} textAnchor="middle" fill="#000">
        Start Time: 01-Sep-18 22:00:00
      </text>
      <text transform="translate(39,177) rotate(-90)" fontSize={30} textAnchor="middle" fill="#000">
        T[K]
      </text>
    </svg>
  );
}
